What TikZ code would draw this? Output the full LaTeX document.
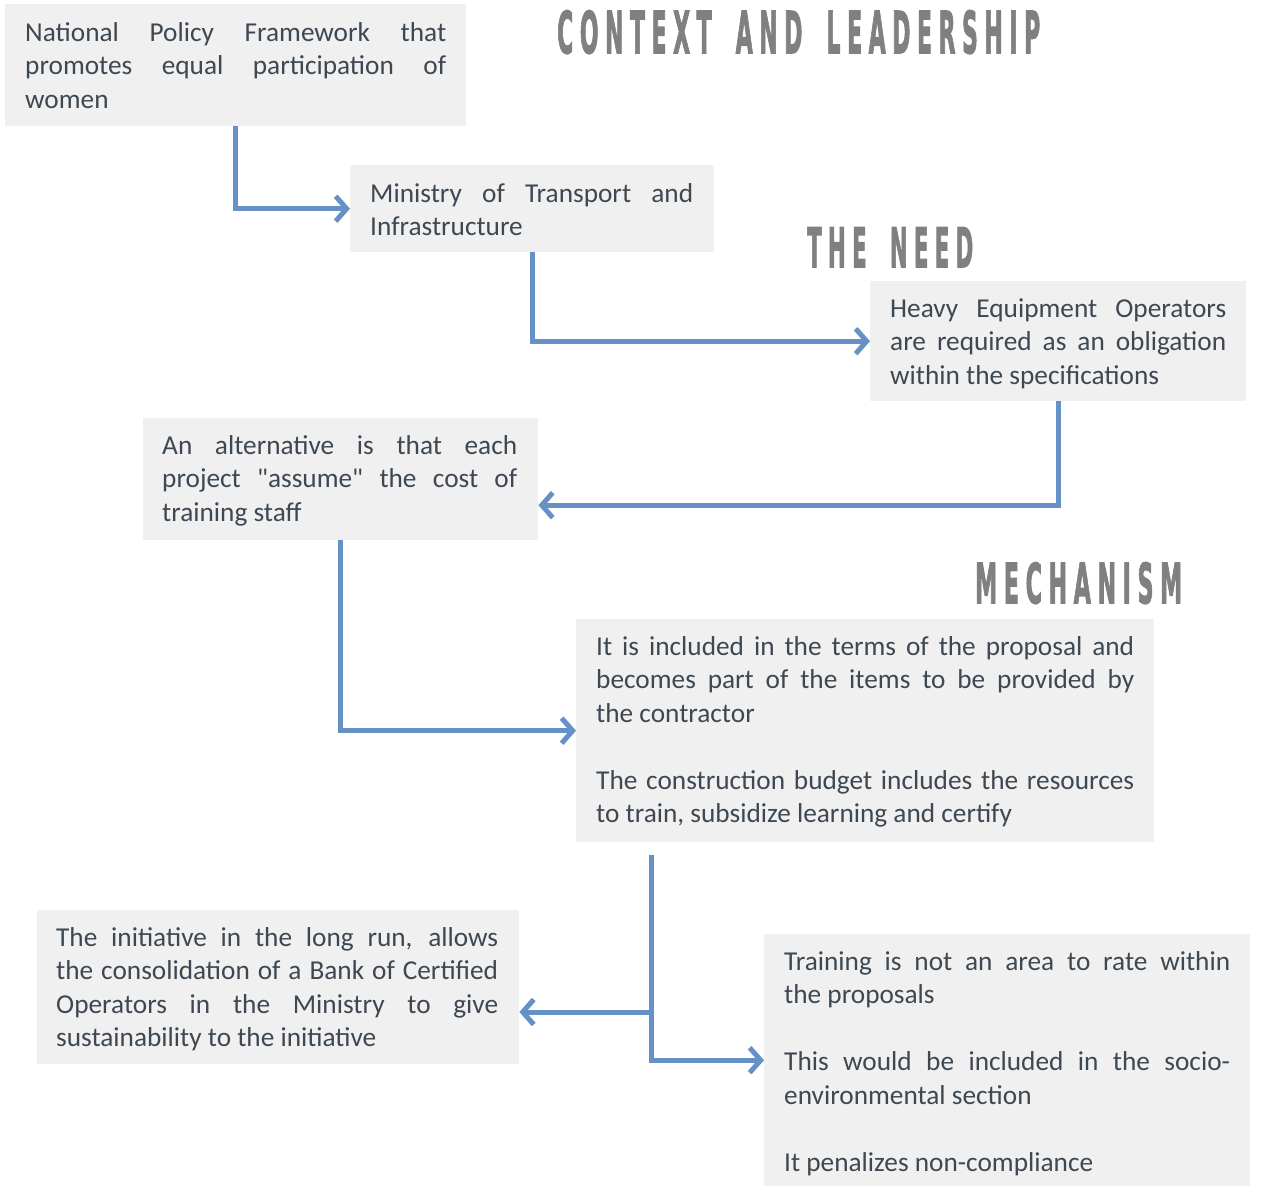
\documentclass[tikz,border=0pt]{standalone}
\usepackage{fontspec}
\usepackage{graphicx}
\setmainfont{Carlito}
\newfontfamily\plainq{Carlito}
\newfontfamily\hfont{DejaVu Sans}[BoldFeatures={FakeBold=2.5}]
\usetikzlibrary{arrows.meta}
\definecolor{boxgray}{RGB}{240,240,240}
\definecolor{txtcol}{RGB}{62,72,82}
\definecolor{arrblue}{RGB}{101,145,198}
\definecolor{headgray}{RGB}{128,128,128}
\newcommand\lk{\kern0.3em}
\newcommand\wk{\kern1.1em}
\newcommand\J[2]{\makebox[#1][s]{#2}}
\newcommand\sq{{\plainq"}}
\begin{document}
\begin{tikzpicture}[x=1pt,y=-1pt,
  box/.style={fill=boxgray, draw=none, anchor=north west, inner sep=0pt},
  txt/.style={anchor=base west, inner sep=0pt, align=left, text=txtcol, font=\fontsize{27.3}{33.5}\selectfont},
  head/.style={anchor=north west, inner sep=0pt, text=headgray, font=\hfont\bfseries},
  arr/.style={draw=arrblue, line width=5pt, -{Straight Barb[length=11pt,width=25pt]}, line join=miter}]
\fill[white] (0,0) rectangle (1272,1186);
\useasboundingbox (0,0) rectangle (1272,1186);

% headings
\node[head] (h1) at (557,10) {\resizebox{483pt}{43pt}{C\lk O\lk N\lk T\lk E\lk X\lk T\wk A\lk N\lk D\wk L\lk E\lk A\lk D\lk E\lk R\lk S\lk H\lk I\lk P}};
\node[head] (h2) at (807,227) {\resizebox{166pt}{40pt}{T\lk H\lk E\wk N\lk E\lk E\lk D}};
\node[head] (h3) at (975,562) {\resizebox{207pt}{41pt}{M\lk E\lk C\lk H\lk A\lk N\lk I\lk S\lk M}};

% boxes
\node[box, minimum width=461pt, minimum height=122pt] (b1) at (5,4) {};
\node[box, minimum width=364pt, minimum height=87pt] (b2) at (350,165) {};
\node[box, minimum width=376pt, minimum height=120pt] (b3) at (870,281) {};
\node[box, minimum width=395pt, minimum height=122pt] (b4) at (143,418) {};
\node[box, minimum width=578pt, minimum height=223pt] (b5) at (576,619) {};
\node[box, minimum width=482pt, minimum height=154pt] (b6) at (37,910) {};
\node[box, minimum width=486pt, minimum height=252pt] (b7) at (764,934) {};

% texts (anchored at the baseline of their last line)
\node[txt] (t1) at (25,108) {\J{421pt}{National Policy Framework that}\\\J{421pt}{promotes equal participation of}\\women};
\node[txt] (t2) at (370,235.5) {\J{323pt}{Ministry of Transport and}\\Infrastructure};
\node[txt] (t3) at (890,384) {\J{336pt}{Heavy Equipment Operators}\\\J{336pt}{are required as an obligation}\\within the specifications};
\node[txt] (t4) at (162,521) {\J{355pt}{An alternative is that each}\\\J{355pt}{project \sq assume\sq{} the cost of}\\training staff};
\node[txt] (t5) at (596,822.5) {\J{538pt}{It is included in the terms of the proposal and}\\\J{538pt}{becomes part of the items to be provided by}\\the contractor\\[33.5pt]\J{538pt}{The construction budget includes the resources}\\to train, subsidize learning and certify};
\node[txt] (t6) at (56,1046.5) {\J{442pt}{The initiative in the long run, allows}\\\J{442pt}{the consolidation of a Bank of Certified}\\\J{442pt}{Operators in the Ministry to give}\\sustainability to the initiative};
\node[txt] (t7) at (784,1171) {\J{446pt}{Training is not an area to rate within}\\the proposals\\[33.5pt]\J{446pt}{This would be included in the socio-}\\environmental section\\[33.5pt]It penalizes non-compliance};

% connectors
\draw[arr] (b1.south) |- (b2.west);
\draw[arr] (b2.south) |- (b3.west);
\draw[arr] (b3.south) |- ([yshift=-26pt]b4.east);
\draw[arr] (b4.south) |- (b5.west);
\coordinate (e0) at (651,855);
\coordinate (e1) at (651,1012);
\draw[arr] (e0) |- (b7.west);
\draw[arr] (e1) -- (b6.east |- e1);
\end{tikzpicture}
\end{document}
